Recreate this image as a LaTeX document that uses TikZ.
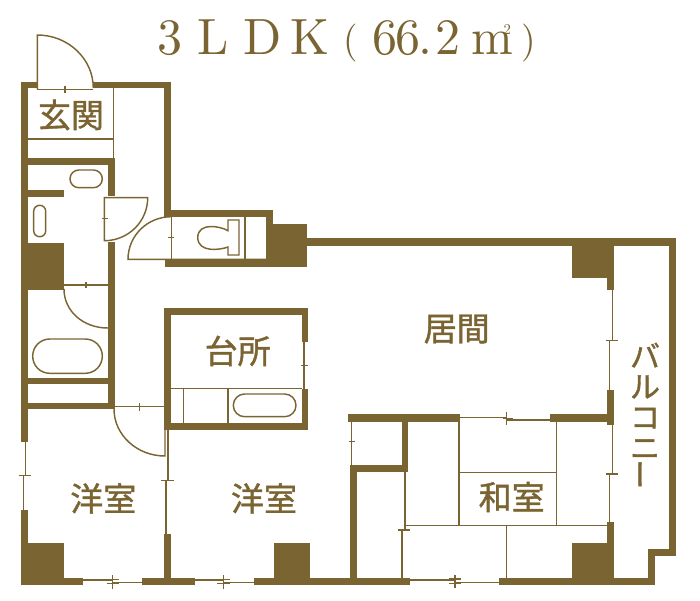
\documentclass[tikz,border=0pt]{standalone}
\usepackage{fontspec}
\newfontfamily\cjk[FakeBold=1.2]{Noto Sans CJK JP}
\newfontfamily\titlefont[Extension=.otf,FakeStretch=0.98]{lmroman10-regular}
\definecolor{ink}{HTML}{7A6432}
\newcommand\tch[2]{\hspace{#1pt}\makebox[0pt]{#2}}
\tikzset{
  wall/.style={fill=ink,draw=none},
  thin/.style={draw=ink,line width=1.45pt,line cap=butt},
  fixture/.style={draw=ink,line width=1.45pt,fill=none},
  room/.style={text=ink,inner sep=0pt,font=\cjk\fontsize{33}{33}\selectfont,align=center},
}
\begin{document}
\begin{tikzpicture}[x=1pt,y=-1pt]
\useasboundingbox (0,0) rectangle (700,600);
% ---- walls
\fill[wall] (21,81.7) rectangle (37.3,88.3);
\fill[wall] (93.3,81.7) rectangle (170.7,88.3);
\fill[wall] (21,81.7) rectangle (27.7,441.7);
\fill[wall] (21,510) rectangle (27.7,585);
\fill[wall] (164,81.7) rectangle (170.7,216.7);
\fill[wall] (164,210) rectangle (272.7,216.7);
\fill[wall] (266,210) rectangle (272.7,226);
\fill[wall] (266,224) rectangle (306.7,266.7);
\fill[wall] (165.3,259.5) rectangle (306.7,266.7);
\fill[wall] (306,238.3) rectangle (676,245.7);
\fill[wall] (669,238.3) rectangle (676,556);
\fill[wall] (648.3,549) rectangle (676,556);
\fill[wall] (648.3,549) rectangle (655,584.7);
\fill[wall] (499,577.7) rectangle (655,584.7);
\fill[wall] (21,577.7) rectangle (83.3,584.7);
\fill[wall] (142.3,577.7) rectangle (195,584.7);
\fill[wall] (254.3,577.7) rectangle (410,584.7);
\fill[wall] (571.7,245) rectangle (614,278.3);
\fill[wall] (607,278) rectangle (614,290);
\fill[wall] (607,390) rectangle (614,425);
\fill[wall] (607,521.7) rectangle (614,578);
\fill[wall] (571.7,543.3) rectangle (614,578);
\fill[wall] (348.3,414.3) rectangle (460,421.7);
\fill[wall] (550,414.3) rectangle (610,421.7);
\fill[wall] (401.7,421) rectangle (408,471.7);
\fill[wall] (350,465) rectangle (408,471.7);
\fill[wall] (350,465) rectangle (356.7,578);
\fill[wall] (21,158.3) rectangle (115,165.3);
\fill[wall] (108.3,158.3) rectangle (115,195.7);
\fill[wall] (108.3,242.3) rectangle (115,409.3);
\fill[wall] (21,190) rectangle (64,196.7);
\fill[wall] (21,243.3) rectangle (64,289.5);
\fill[wall] (21,377.7) rectangle (115,384.3);
\fill[wall] (21,402.7) rectangle (115,409.3);
\fill[wall] (164.3,307.7) rectangle (308.3,314.7);
\fill[wall] (164.3,307.7) rectangle (171,430);
\fill[wall] (301.7,307.7) rectangle (308.3,342);
\fill[wall] (301.7,388.7) rectangle (308.3,430);
\fill[wall] (164.3,422.7) rectangle (308.3,430);
\fill[wall] (164.3,534) rectangle (171,578);
\fill[wall] (21,543.3) rectangle (63.7,585);
\fill[wall] (274,543.3) rectangle (310,578);
% ---- entrance
\draw[thin] (37.3,89.3) -- (93.3,89.3);
\draw[thin] (65,85.5) -- (65,93);
\draw[thin] (93.3,88) .. controls (93.3,59) and (68.3,35) .. (37.3,35) -- (37.3,89);
\draw[thin] (113.7,88) -- (113.7,158);
\draw[thin] (27,139) -- (113.7,139);
% ---- wash room
\draw[fixture,rounded corners=8.8pt] (70,170) rectangle (102.3,187.7);
\draw[fixture,rounded corners=5.9pt] (33.7,205.3) rectangle (45.7,236.7);
\draw[thin] (147.7,197.7) .. controls (147.7,221.5) and (128.3,240.7) .. (104.3,240.7) -- (104.3,197.7) -- cycle;
\draw[thin] (101.8,218.7) -- (107.8,218.7);
% ---- toilet
\draw[thin] (171.3,216.7) .. controls (147.3,216.7) and (128,235.8) .. (128,259.3) -- (266,259.3);
\draw[thin] (171.3,216.7) -- (171.3,259.3);
\draw[thin] (168.3,237.7) -- (174.3,237.7);
\draw[thin] (245,216.7) -- (245,259.3);
\draw[fixture,line join=miter] (228,230.7) .. controls (220,226) and (198,222) .. (197.7,237.5) .. controls (198,253) and (220,250) .. (228,247) -- (228,255) -- (239,255) -- (239,220) -- (228,220) -- cycle;
% ---- bath
\draw[thin] (64,285) -- (108,285);
\draw[thin] (86,282) -- (86,288);
\draw[thin] (64,289) .. controls (64,311) and (83,328) .. (107.8,328);
\draw[fixture,rounded corners=17pt] (32.7,339) rectangle (102.3,373.3);
% ---- door to west room
\draw[thin] (115,406.7) -- (164.3,406.7);
\draw[thin] (139.3,403) -- (139.3,410.5);
\draw[thin] (114,409) .. controls (114,435) and (137,456) .. (165,456) -- (165,430);
% ---- kitchen
\draw[thin] (171,388.3) -- (302,388.3);
\draw[thin] (183.7,388.3) -- (183.7,423);
\draw[thin] (228,388.3) -- (228,423);
\draw[fixture,rounded corners=11.3pt] (233.3,394) rectangle (296,416.7);
\draw[thin] (304,342) -- (304,389);
\draw[thin] (300.5,365.3) -- (307.5,365.3);
% ---- windows and partition
\draw[thin] (25.7,441.7) -- (25.7,475.7);
\draw[thin] (23.3,475.7) -- (23.3,510);
\draw[thin] (18.5,475.7) -- (30.5,475.7);
\draw[thin] (168,430) -- (168,480.7);
\draw[thin] (166,480.7) -- (166,534);
\draw[thin] (161,480.7) -- (173.5,480.7);
\draw[thin] (83,580) -- (113,580);
\draw[thin] (113,582.7) -- (142.3,582.7);
\draw[thin] (112.7,575) -- (112.7,589);
\draw[thin] (106.5,579.5) -- (119,579.5);
\draw[thin] (106.5,583.5) -- (119,583.5);
\draw[thin] (195,580) -- (223.3,580);
\draw[thin] (223.3,582.7) -- (254.3,582.7);
\draw[thin] (223.3,575) -- (223.3,589);
\draw[thin] (217,579.5) -- (229.5,579.5);
\draw[thin] (217,583.5) -- (229.5,583.5);
% ---- balcony windows
\draw[thin] (612.3,290) -- (612.3,340.7);
\draw[thin] (609.7,340.7) -- (609.7,390);
\draw[thin] (605.5,340.7) -- (618,340.7);
\draw[thin] (612.3,425) -- (612.3,474);
\draw[thin] (609.7,474) -- (609.7,522);
\draw[thin] (605.5,474) -- (618,474);
% ---- japanese room
\draw[thin] (351.7,421) -- (351.7,465);
\draw[thin] (348.5,441.7) -- (355,441.7);
\draw[thin] (460,417.3) -- (506.7,417.3);
\draw[thin] (506.7,420) -- (550,420);
\draw[thin] (506.7,412.3) -- (506.7,424.5);
\draw[thin] (503,418.5) -- (513,418.5);
\draw[thin] (459,421) -- (459,525.7);
\draw[thin] (556.7,421) -- (556.7,525.7);
\draw[thin] (459,472.7) -- (556.7,472.7);
\draw[thin] (405,525.7) -- (607,525.7);
\draw[thin] (506.7,525.7) -- (506.7,578);
\draw[thin] (405,471.7) -- (405,530);
\draw[thin] (402,530) -- (402,578);
\draw[thin] (397.5,530) -- (410,530);
\draw[thin] (410,580) -- (455,580);
\draw[thin] (455,582.5) -- (499,582.5);
\draw[thin] (455,574.5) -- (455,588);
\draw[thin] (449,579) -- (461,579);
\draw[thin] (449,583.5) -- (461,583.5);
% ---- texts
\node[room,text=ink,anchor=center] (genkan) at (71,115) {玄関};
\node[room] (daidokoro) at (237.7,351) {台所};
\node[room] (yoshitsu1) at (103.3,498.5) {洋室};
\node[room] (yoshitsu2) at (264,498.5) {洋室};
\node[room] (ima) at (456.7,329) {居間};
\node[room] (washitsu) at (511.7,497) {和室};
\node[room,font=\cjk\fontsize{30}{30.5}\selectfont] (balcony) at (645,416) {バ\\ル\\コ\\ニ\\\rotatebox{90}{ー}};
\node[text=ink,inner sep=0pt,anchor=base west,font=\titlefont\fontsize{51}{51}\selectfont] (title) at (170,54.5) {\tch{0}{3}\tch{43}{L}\tch{49}{D}\tch{48}{K}\tch{41}{\raisebox{2pt}{\fontsize{38}{38}\selectfont(}}\tch{34}{6}\tch{23}{6}\tch{17}{.}\tch{23}{2}\tch{44}{m}\tch{15}{\raisebox{20pt}{\fontsize{15}{15}\selectfont 2}}\tch{22}{\raisebox{2pt}{\fontsize{38}{38}\selectfont)}}};
\end{tikzpicture}
\end{document}
